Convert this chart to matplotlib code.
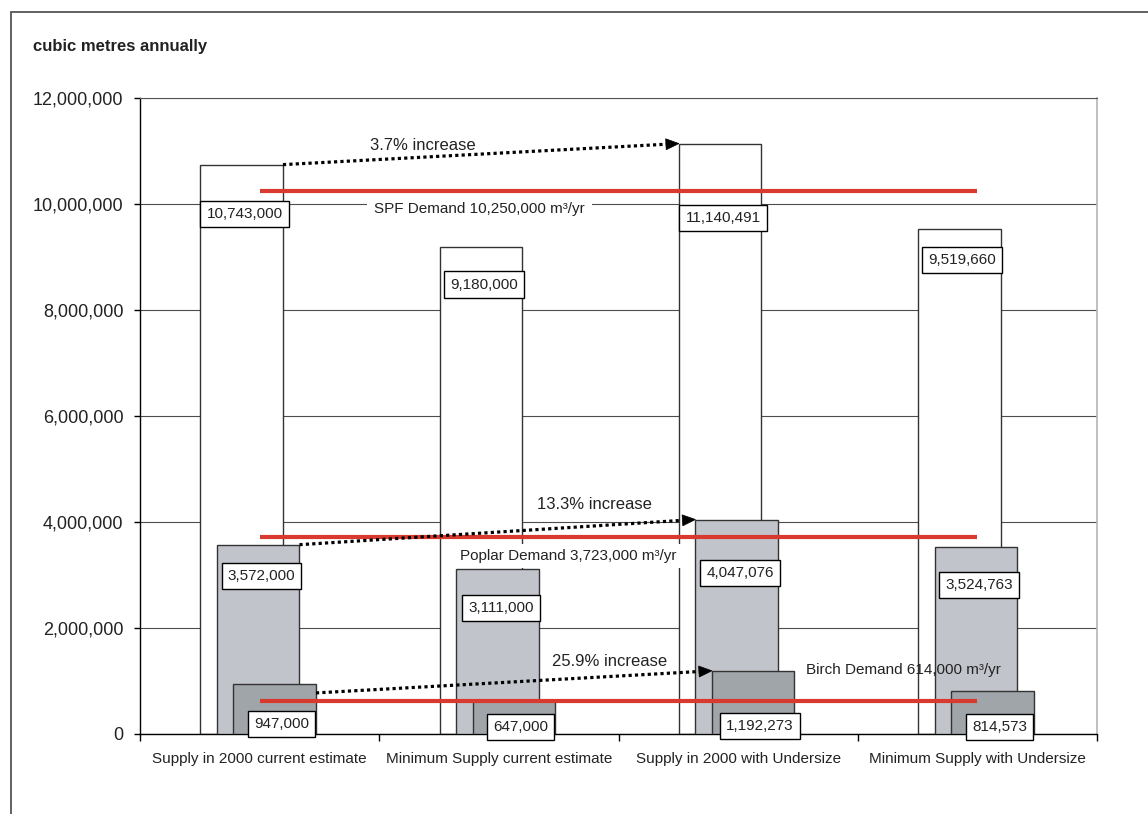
import matplotlib
matplotlib.use("Agg")
import numpy as np
import matplotlib.pyplot as plt
from matplotlib.patches import Rectangle, Polygon
from matplotlib.ticker import FuncFormatter

plt.rcParams['font.family'] = ['Liberation Sans', 'DejaVu Sans']

# ---- data -------------------------------------------------------------
categories = [
    "Supply in 2000 current estimate",
    "Minimum Supply current estimate",
    "Supply in 2000 with Undersize",
    "Minimum Supply with Undersize",
]
spf_supply = [10_743_000, 9_180_000, 11_140_491, 9_519_660]
poplar_supply = [3_572_000, 3_111_000, 4_047_076, 3_524_763]
birch_supply = [947_000, 647_000, 1_192_273, 814_573]

spf_demand = 10_250_000
poplar_demand = 3_723_000
birch_demand = 614_000

y_ticks = [0, 2_000_000, 4_000_000, 6_000_000, 8_000_000, 10_000_000, 12_000_000]

# ---- layout / style ---------------------------------------------------
W, H = 1148, 814
fig = plt.figure(figsize=(W / 100, H / 100), dpi=100)
ax = fig.add_axes([140 / W, (H - 734) / H, (1097 - 140) / W, (734 - 98) / H])
ax.set_xlim(-0.5, 3.5)
ax.set_ylim(0, 12_000_000)

TXT = '#222222'
RED = '#d93a2f'
EDGE = '#333333'

bar_w = 0.345
series = [
    ("SPF", spf_supply, '#ffffff', -0.075),
    ("Poplar", poplar_supply, '#c1c4cb', -0.006),
    ("Birch", birch_supply, '#a0a5aa', 0.063),
]

# label box placement (x offset from category centre, y centre in m3)
label_dx = [-0.063, 0.008, 0.092]
label_y = [
    [9_811_000, 8_481_000, 9_736_000, 8_943_000],
    [2_981_000, 2_377_000, 3_038_000, 2_811_000],
    [189_000, 132_000, 151_000, 132_000],
]

xs = list(range(len(categories)))
for k, (name, vals, col, off) in enumerate(series):
    ax.bar([x + off for x in xs], vals, width=bar_w, color=col,
           edgecolor=EDGE, linewidth=1.0, zorder=2 + k)
    for i, v in enumerate(vals):
        ax.text(i + label_dx[k], label_y[k][i], f"{v:,}", ha='center', va='center',
                fontsize=11, color=TXT, zorder=10, clip_on=False,
                bbox=dict(boxstyle='square,pad=0.4', fc='white', ec='black', lw=1.0))

# demand lines
for d in (spf_demand, poplar_demand, birch_demand):
    ax.plot(xs, [d] * len(xs), color=RED, lw=3.0, solid_capstyle='butt', zorder=6)

ax.text(0.919, 9_906_000, f"SPF Demand {spf_demand:,} m³/yr", ha='center', va='center',
        fontsize=11, color=TXT, zorder=7,
        bbox=dict(boxstyle='square,pad=0.45', fc='white', ec='none'))
ax.text(1.289, 3_358_000, f"Poplar Demand {poplar_demand:,} m³/yr", ha='center', va='center',
        fontsize=11, color=TXT, zorder=7,
        bbox=dict(boxstyle='square,pad=0.3', fc='white', ec='none'))
ax.text(2.689, 1_208_000, f"Birch Demand {birch_demand:,} m³/yr", ha='center', va='center',
        fontsize=11, color=TXT, zorder=7)


def dotted_arrow(p_from, p_to, head_len=13.0, head_half=5.5):
    """Dotted stem with a solid triangular head, sized in pixels."""
    a = ax.transData.transform(p_from)
    b = ax.transData.transform(p_to)
    u = (b - a) / np.hypot(*(b - a))
    n = np.array([-u[1], u[0]])
    base = b - u * head_len
    inv = ax.transData.inverted()
    s0, s1 = inv.transform(a), inv.transform(base)
    ax.plot([s0[0], s1[0]], [s0[1], s1[1]], color='black', lw=2.3,
            linestyle=(0, (1, 1)), dash_capstyle='butt', zorder=8)
    tri = inv.transform(np.array([b, base + n * head_half, base - n * head_half]))
    ax.add_patch(Polygon(tri, closed=True, fc='black', ec='black', lw=0.5, zorder=8))


# growth arrows from first to third scenario
arrow_start_drop = [0, 0, 172_000]
incr_pos = [(0.683, 11_113_000), (1.398, 4_321_000), (1.464, 1_377_000)]
for k, (name, vals, col, off) in enumerate(series):
    x0 = 0 + off + bar_w / 2
    x1 = 2 + off - bar_w / 2
    dotted_arrow((x0, vals[0] - arrow_start_drop[k]), (x1, vals[2]))
    pct = (vals[2] / vals[0] - 1) * 100
    ax.text(incr_pos[k][0], incr_pos[k][1], f"{pct:.1f}% increase", ha='center',
            va='center', fontsize=12, color=TXT, zorder=8)

# axes styling
ax.set_axisbelow(True)
ax.yaxis.grid(True, color='#4d4d4d', lw=0.8, zorder=0)
ax.set_yticks(y_ticks)
ax.yaxis.set_major_formatter(FuncFormatter(lambda v, p: f"{int(v):,}"))
ax.tick_params(axis='y', direction='out', length=4, width=1, pad=8,
               labelsize=13, labelcolor=TXT, color='black')

ax.set_xticks([-0.5, 0.5, 1.5, 2.5, 3.5])
ax.set_xticklabels([])
ax.set_xticks(xs, minor=True)
ax.set_xticklabels(categories, minor=True, fontsize=11, color=TXT)
ax.tick_params(axis='x', which='major', direction='out', length=5, width=1, color='black')
ax.tick_params(axis='x', which='minor', length=0, pad=13)

for s in ('left', 'bottom'):
    ax.spines[s].set_color('black')
    ax.spines[s].set_linewidth(1.0)
ax.spines['top'].set_color('#555555')
ax.spines['top'].set_linewidth(0.8)
ax.spines['right'].set_color('#b5b5b5')
ax.spines['right'].set_linewidth(1.2)

# outer chart frame and unit caption
fig.add_artist(Rectangle((11 / W, -0.2), 1.5, 1 - 12 / H + 0.2, transform=fig.transFigure,
                         fill=False, ec='#555555', lw=1.3))
fig.text(33 / W, 1 - 46 / H, "cubic metres annually", fontsize=12, fontweight='bold',
         color=TXT, va='center', ha='left')

fig.savefig("out.png", dpi=100)
